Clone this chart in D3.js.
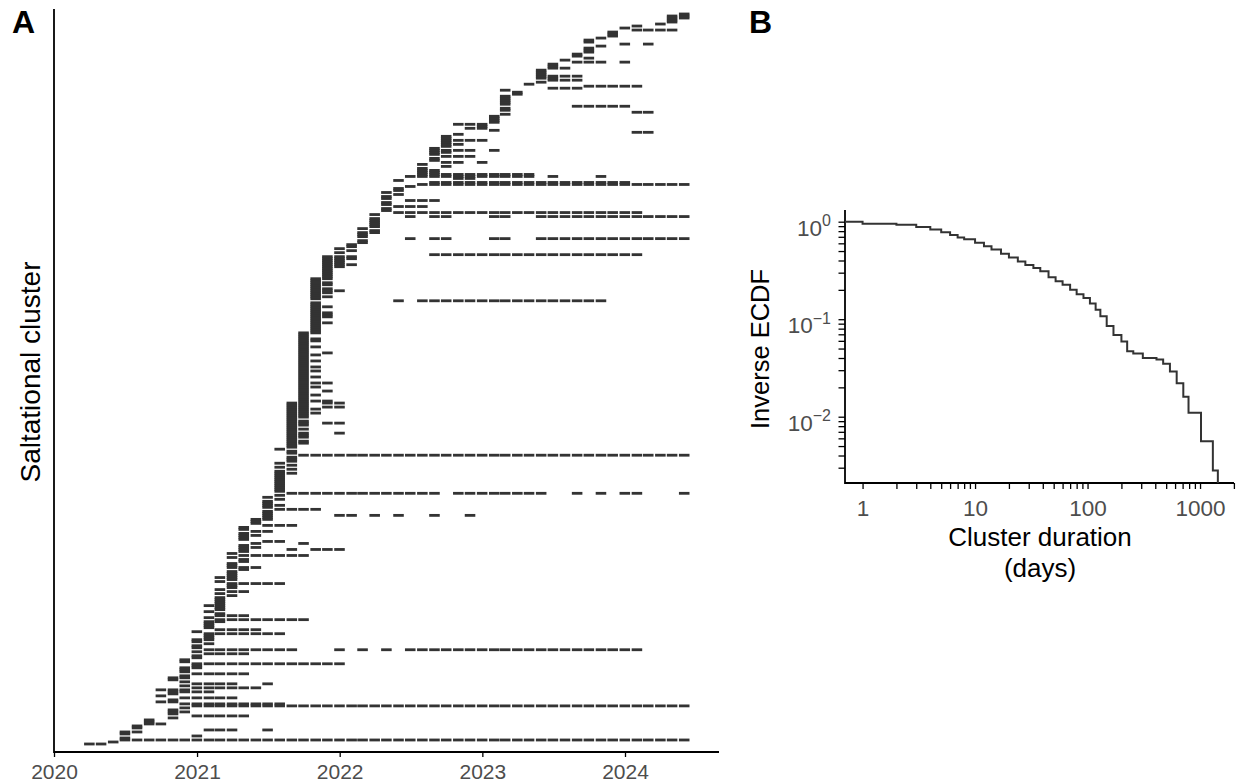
<!DOCTYPE html>
<html>
<head>
<meta charset="utf-8">
<script src="https://cdn.jsdelivr.net/npm/d3@7"></script>
<style>
  body { margin: 0; background: #fff; }
  svg { font-family: "Liberation Sans", Arial, sans-serif; }
</style>
</head>
<body>
<svg id="chart" width="1238" height="784"></svg>
<script>
// ---- panel A: one row per saltational cluster, bottom to top ----
// "start:pattern" -> start = months since Jan 2020, '#' = cluster seen that month
const clusterRows = [
  "3:##", "5:#", "6:################################################", "6:#", "12:#", "6:#", "6:##", "13:###..#", "7:#", "7:#",
  "8:##", "8:#", "8:#", "10:#", "12:#####", "10:#", "10:##", "10:#", "11:#", "12:##########################################",
  "11:#########", "9:##", "10:#", "11:#####", "9:#", "10:#", "10:####", "9:###", "12:######", "11:#",
  "12:####..#", "11:#", "10:#", "10:##", "11:#", "12:#####", "11:#", "11:#", "11:##", "12:#",
  "12:#############", "11:#", "11:#", "12:#", "12:#", "13:####", "12:#", "13:########...#.#.#.####################", "12:#", "12:#",
  "13:#", "12:#", "12:##", "13:#", "13:#", "13:#######", "12:#", "14:####", "13:#", "13:#",
  "13:#", "13:##", "14:########", "13:#", "14:###", "14:#", "13:#", "14:#", "14:#", "13:##",
  "14:#", "14:#", "14:#", "14:#", "15:#", "14:#", "15:##", "14:#", "15:#", "15:#",
  "15:#####", "14:#", "15:#", "14:##", "15:#", "15:#", "15:#", "16:#", "15:###", "15:#",
  "15:#", "16:#", "16:#", "15:#", "16:######", "15:#", "16:#", "16:#...#.###", "16:##", "16:#",
  "17:#...#", "18:##", "16:#", "16:#", "16:##", "16:#", "17:##", "16:#", "16:#", "18:###",
  "17:#", "17:#", "17:##", "18:#", "18:#.....##.#.#..#..#", "18:#", "18:#", "19:####", "18:#", "18:##",
  "18:#", "18:#", "19:#", "18:#", "19:#", "20:#############.########..#.#.##...#", "19:#", "19:#", "19:#", "19:#",
  "19:#", "19:#", "19:#", "19:#", "19:#", "19:##", "19:#", "20:#", "19:#", "20:#",
  "19:#", "20:#", "20:#", "20:#", "21:#################################", "20:#", "20:#", "19:#", "20:#", "20:#",
  "20:##", "20:##", "20:#", "20:##", "20:##", "20:##..#", "20:#", "20:##", "20:#", "20:##",
  "20:##.##", "20:##", "20:#", "20:##", "20:##", "20:###", "20:##", "20:###", "20:##.##", "20:##",
  "20:##.##", "21:###", "21:#", "21:#", "21:##", "21:#", "21:#.#", "21:#", "21:##", "21:#",
  "21:###", "21:#", "21:#", "21:##", "21:#", "21:#", "21:##", "21:#", "21:##", "21:#",
  "21:#", "21:##", "21:#", "21:#", "21:##", "21:#.#", "21:#", "21:#", "21:##", "21:#",
  "21:#", "21:##", "21:##", "21:#", "21:#", "21:##", "22:#", "22:#", "22:#", "22:#",
  "22:##", "22:#", "22:#", "22:##", "22:##", "22:##", "22:#", "22:#", "22:##", "22:#",
  "22:#", "29:#.################", "22:#", "22:##", "22:#", "22:##", "22:###", "22:##", "22:#", "22:##",
  "22:##", "22:#", "22:##", "23:#", "23:#", "23:#", "23:#", "23:#", "23:##", "23:###",
  "23:##", "23:##", "23:###", "23:###", "32:##################", "24:#", "25:#", "24:#", "25:#", "25:#",
  "26:#", "26:#", "30:#.##...##..#############", "26:#", "26:#", "26:##", "27:#", "26:#", "27:#", "27:#",
  "27:#", "27:#", "27:#", "30:#.##...##..#############", "27:#", "29:#####################", "28:#", "28:#", "29:###", "28:#",
  "28:#", "30:###", "28:#", "28:#", "29:#", "28:#", "29:#", "29:#", "30:#", "31:#######################",
  "32:#################", "29:#", "34:##", "30:###########.#...#", "31:##########", "31:##", "31:##", "31:#", "33:#", "31:#",
  "33:##.#", "32:#", "32:#", "33:###", "32:#", "32:##", "32:####.#", "32:#", "33:#", "33:##",
  "33:#", "33:####", "33:#", "33:#", "34:#", "49:##", "37:#", "35:##", "36:#", "34:###",
  "37:#", "37:#", "37:#", "37:#", "38:#", "49:##", "38:#", "38:#", "44:#####", "38:#",
  "38:#", "38:#", "38:#", "38:#", "39:#", "39:#", "38:#", "42:###", "45:#####", "40:#",
  "41:#", "42:###", "41:##", "41:####", "41:#", "41:#", "41:#", "42:##", "42:#", "42:#",
  "44:###.#", "43:#", "45:#", "44:#", "44:#", "45:#", "45:#", "45:#", "46:#", "48:#.#",
  "45:#", "45:#", "46:#", "47:#", "47:#", "47:#", "49:####", "48:#", "49:#", "51:#",
  "52:#", "52:#", "52:##", "52:##", "53:#"
];
const yearTicks = [2020, 2021, 2022, 2023, 2024];

// ---- panel B: inverse ECDF of cluster duration ----
const durationDays = [1, 2, 3, 4, 5, 6, 7, 8, 10, 12, 14, 17, 20, 24, 28, 33, 38, 45, 52, 60,
  70, 80, 92, 105, 118, 130, 148, 170, 200, 225, 255, 310, 410, 470, 540, 620, 710, 790, 1020, 1300, 1440];
const inverseEcdf = [0.95, 0.93, 0.88, 0.83, 0.78, 0.73, 0.69, 0.66, 0.61, 0.56, 0.52, 0.47, 0.43, 0.39, 0.36, 0.335, 0.31, 0.27, 0.245, 0.225,
  0.2, 0.18, 0.165, 0.145, 0.125, 0.107, 0.085, 0.069, 0.059, 0.047, 0.0445, 0.04, 0.0385, 0.035, 0.029, 0.022, 0.016, 0.011, 0.0056, 0.0028, 0];
const durationLabels = [1, 10, 100, 1000];
const ecdfLabels = [1, 0.1, 0.01];
const ecdfExponents = ['0', '\u22121', '\u22122'];

const svg = d3.select('#chart');
const ink = '#333333';
const tickGrey = '#4d4d4d';

// ================= panel A =================
const tiles = [];
clusterRows.forEach((row, i) => {
  const [start, pattern] = row.split(':');
  [...pattern].forEach((c, k) => {
    if (c === '#') tiles.push({ row: i, month: new Date(2020, +start + k, 1) });
  });
});

const xA = d3.scaleTime()
  .domain([new Date(2020, 0, 1), new Date(2024, 0, 1)])
  .range([54, 625]);
const yA = d3.scaleBand()
  .domain(d3.range(clusterRows.length))
  .range([745, 13]);
const bw = yA.bandwidth();

const gA = svg.append('g');
gA.selectAll('rect.tile').data(tiles)
  .enter().append('rect')
    .attr('class', 'tile')
    .attr('x', d => xA(d3.timeDay.offset(d.month, -13.5)))
    .attr('width', d => xA(d3.timeDay.offset(d.month, 13.5)) - xA(d3.timeDay.offset(d.month, -13.5)))
    .attr('y', d => yA(d.row) - bw * 0.2)
    .attr('height', bw * 1.4)
    .attr('fill', ink);

const xAxisA = d3.axisBottom(xA)
  .tickValues(yearTicks.map(y => new Date(y, 0, 1)))
  .tickFormat(d3.timeFormat('%Y'))
  .tickSize(5)
  .tickPadding(7)
  .tickSizeOuter(0);
const xAxisAG = gA.append('g')
  .attr('transform', 'translate(0,752)')
  .call(xAxisA);
xAxisAG.select('.domain').remove();
xAxisAG.selectAll('line').attr('stroke', 'black').attr('stroke-width', 1.3);
xAxisAG.selectAll('text')
  .attr('font-size', 21)
  .attr('fill', tickGrey)
  .attr('font-family', '"Liberation Sans", Arial, sans-serif');

gA.append('line').attr('x1', 54).attr('x2', 719).attr('y1', 752).attr('y2', 752)
  .attr('stroke', 'black').attr('stroke-width', 1.8);
gA.append('line').attr('x1', 54).attr('x2', 54).attr('y1', 9).attr('y2', 752.9)
  .attr('stroke', 'black').attr('stroke-width', 1.8);

gA.append('text')
  .attr('transform', 'translate(40,372) rotate(-90)')
  .attr('text-anchor', 'middle')
  .attr('font-size', 28)
  .text('Saltational cluster');

// ================= panel B =================
const xB = d3.scaleLog().domain([0.698, 2004]).range([845, 1234]);
const yB = d3.scaleLog().domain([0.00209, 1.318]).range([483, 210]);

const gB = svg.append('g');

const xMinor = [];
[1, 10, 100, 1000].forEach(e => d3.range(1, 10).forEach(k => xMinor.push(k * e)));
const yMinor = [];
[0.001, 0.01, 0.1, 1].forEach(e => d3.range(1, 10).forEach(k => yMinor.push(k * e)));

const xAxisB = d3.axisBottom(xB)
  .tickValues(xMinor.filter(v => v >= xB.domain()[0] && v <= xB.domain()[1]))
  .tickFormat(v => durationLabels.includes(v) ? v : '')
  .tickSize(6)
  .tickPadding(11)
  .tickSizeOuter(0);
const xAxisBG = gB.append('g')
  .attr('transform', 'translate(0,483)')
  .call(xAxisB);
xAxisBG.select('.domain').remove();
xAxisBG.selectAll('line').attr('stroke', 'black').attr('stroke-width', 1.3);
xAxisBG.selectAll('text')
  .attr('font-size', 22.5)
  .attr('fill', tickGrey)
  .attr('font-family', '"Liberation Sans", Arial, sans-serif');

const yAxisB = d3.axisLeft(yB)
  .tickValues(yMinor.filter(v => v >= yB.domain()[0] && v <= yB.domain()[1] * 0.999))
  .tickFormat('')
  .tickSize(6.5)
  .tickSizeOuter(0);
const yAxisBG = gB.append('g')
  .attr('transform', 'translate(845,0)')
  .call(yAxisB);
yAxisBG.select('.domain').remove();
yAxisBG.selectAll('line').attr('stroke', 'black').attr('stroke-width', 1.3);

const yLab = gB.selectAll('text.ylab').data(ecdfLabels)
  .enter().append('text')
    .attr('class', 'ylab')
    .attr('x', 831)
    .attr('y', d => yB(d) + 14)
    .attr('text-anchor', 'end')
    .attr('font-size', 22.5)
    .attr('fill', tickGrey);
yLab.append('tspan').text('10');
yLab.append('tspan')
  .attr('dy', -9.5)
  .attr('font-size', 16)
  .text((d, i) => ecdfExponents[i]);

gB.append('line').attr('x1', 845).attr('x2', 1234).attr('y1', 483).attr('y2', 483)
  .attr('stroke', 'black').attr('stroke-width', 1.8);
gB.append('line').attr('x1', 845).attr('x2', 845).attr('y1', 210).attr('y2', 483.9)
  .attr('stroke', 'black').attr('stroke-width', 1.8);

const ecdfPoints = [{ d: xB.domain()[0], p: 1 }]
  .concat(durationDays.map((d, i) => ({ d: d, p: inverseEcdf[i] })));
const ecdfLine = d3.line()
  .x(d => xB(d.d))
  .y(d => d.p > 0 ? yB(d.p) : yB.range()[0])
  .curve(d3.curveStepAfter);
gB.append('path')
  .datum(ecdfPoints)
  .attr('d', ecdfLine)
  .attr('fill', 'none')
  .attr('stroke', ink)
  .attr('stroke-width', 2);

gB.append('text')
  .attr('transform', 'translate(769,349) rotate(-90)')
  .attr('text-anchor', 'middle')
  .attr('font-size', 25.5)
  .text('Inverse ECDF');
gB.append('text')
  .attr('x', 1040).attr('y', 546)
  .attr('text-anchor', 'middle')
  .attr('font-size', 26)
  .text('Cluster duration');
gB.append('text')
  .attr('x', 1040).attr('y', 577)
  .attr('text-anchor', 'middle')
  .attr('font-size', 26)
  .text('(days)');

// panel tags
svg.append('text').attr('x', 12).attr('y', 33)
  .attr('font-size', 32).attr('font-weight', 'bold').text('A');
svg.append('text').attr('x', 749).attr('y', 33)
  .attr('font-size', 32).attr('font-weight', 'bold').text('B');
</script>
</body>
</html>
